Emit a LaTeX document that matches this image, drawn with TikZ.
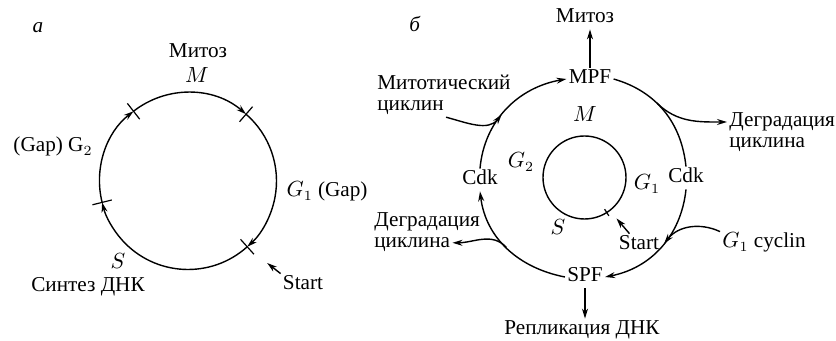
\documentclass[tikz,border=0pt]{standalone}
\usepackage{fontspec}
\setmainfont{Liberation Serif}
\usepackage{amsmath}
\usepackage{tikz}
\usetikzlibrary{arrows.meta, positioning, calc}

\begin{document}
\begin{tikzpicture}[
        x=0.5pt, y=0.5pt,
        lbl/.style={inner sep=1pt, font=\fontsize{10.6}{12}\selectfont, text height=7pt, text depth=2pt},
        phase/.style={line width=0.7pt},
        arrow/.style={line width=0.7pt, -{Stealth[length=5pt, width=3pt]}},
        marker/.style={line width=0.6pt}
    ]
    \useasboundingbox (0,0) rectangle (836,341);

    % Panel a: the cycle and its four checkpoints
    \coordinate (ca) at (188,160);
    \foreach \from/\to in {194/128, 128/49, 49/-48, -48/-166}
        \draw[arrow] ($(ca)+(\from:88.5)$) arc[start angle=\from, end angle=\to, radius=88.5];
    \foreach \ang in {128, 49, 194, -48}
        \draw[marker] ($(ca)+(\ang:78.5)$) -- ($(ca)+(\ang:98.5)$);

    \node[lbl] (pa) at (38,313) {\textit{а}};
    \node[lbl] (mitA) at (198,288) {Митоз};
    \node[lbl] (mA) at (197,263) {$M$};
    \node[lbl] (g2A) at (53,194) {(Gap) G$_2$};
    \node[lbl] (g1A) at (327,149) {$G_1$ (Gap)};
    \node[lbl] (sA) at (118,77) {$S$};
    \node[lbl] (dnaA) at (88,54) {Синтез ДНК};
    \node[lbl] (startA) at (303,56) {Start};
    \coordinate (startTipA) at ($(ca)+(-46:114)$);
    \draw[arrow] (startA.north west) -- (startTipA);

    % Panel b: inner cycle
    \coordinate (cb) at (584.5,163.5);
    \draw[phase] (cb) circle[radius=41.5];
    \draw[marker] ($(cb)+(-57.6:37.5)$) -- ($(cb)+(-57.6:45.5)$);
    \node[lbl] (pb) at (415,314) {\textit{б}};
    \node[lbl] (mB) at (585,224) {$M$};
    \node[lbl] (g2B) at (521,178) {$G_2$};
    \node[lbl] (g1B) at (647,156) {$G_1$};
    \node[lbl] (sB) at (558,111) {$S$};
    \node[lbl] (startB) at (639,96) {Start};
    \coordinate (startTipB) at ($(cb)+(-52:52)$);
    \draw[arrow] (startB.130) -- (startTipB);

    % Panel b: kinase complexes on the outer cycle
    \node[lbl] (mpf) at (590,262) {MPF};
    \node[lbl] (spf) at (585,64) {SPF};
    \node[lbl] (cdkL) at (480,161) {Cdk};
    \node[lbl] (cdkR) at (686,163) {Cdk};
    \node[lbl] (mitB) at (585,323) {Митоз};
    \node[lbl] (repl) at (582,11) {Репликация ДНК};

    \node[lbl, anchor=west] (mit1) at (375,256) {Митотический};
    \node[lbl, below=-1pt of mit1.south west, anchor=north west] (mit2) {циклин};
    \node[lbl, anchor=west] (degR1) at (727,219) {Деградация};
    \node[lbl, below=-1pt of degR1.south west, anchor=north west] (degR2) {циклина};
    \node[lbl, anchor=west] (degL1) at (372,119) {Деградация};
    \node[lbl, below=-1pt of degL1.south west, anchor=north west] (degL2) {циклина};
    \node[lbl, anchor=west] (g1cyc) at (720,98) {$G_1$ cyclin};

    \draw[arrow] (cdkL.north) to[out=85, in=190] coordinate[pos=0.44] (jA) (mpf.west);
    \draw[phase] (mpf.east) to[out=-16, in=96] coordinate[pos=0.41] (jB) (cdkR.north);
    \draw[arrow] (cdkR.south) to[out=-96, in=11] coordinate[pos=0.46] (jC) (spf.east);
    \draw[arrow] (spf.west) to[out=169, in=-83] coordinate[pos=0.51] (jD) (cdkL.south);

    % Cyclins in and out
    \draw[arrow] (mit2.south east) to[out=-15, in=232] (jA);
    \draw[arrow] (jB) to[out=-44, in=180] (degR1.west);
    \draw[arrow] (g1cyc.north west) to[out=155, in=52] (jC);
    \draw[arrow] (jD) to[out=132, in=0] (degL2.east);

    \draw[arrow] (mpf.north) -- (mpf.north |- mitB.south);
    \draw[arrow] (spf.south) -- (spf.south |- repl.north);
\end{tikzpicture}
\end{document}
